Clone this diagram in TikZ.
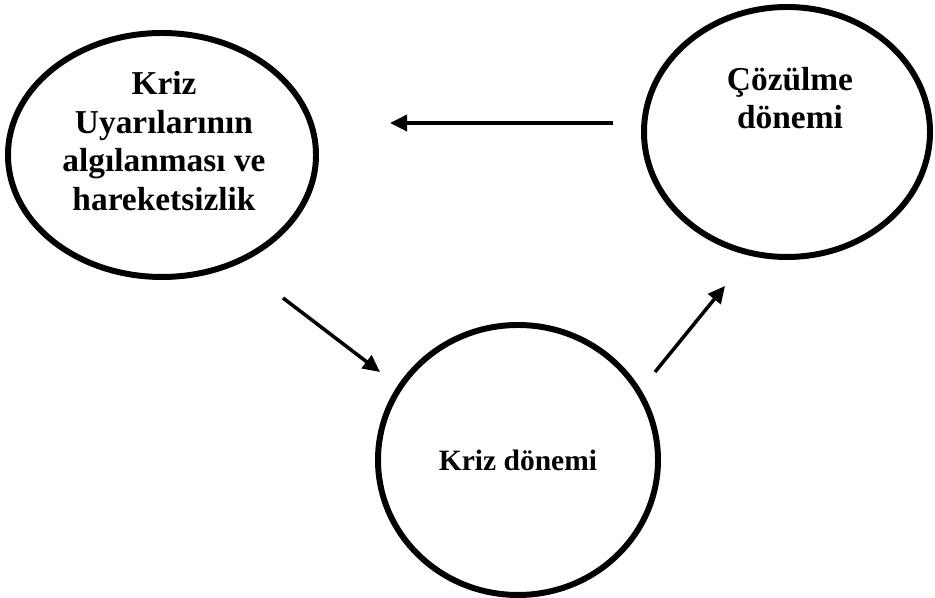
\documentclass[tikz,border=0pt]{standalone}
\usepackage{fontspec}
\setmainfont{Liberation Serif}
\usepackage{tikz}
\usetikzlibrary{calc,arrows.meta,positioning,shapes.geometric}

\tikzset{
  phase/.style={draw,ellipse,line width=1.7pt,inner sep=0pt,outer sep=0pt},
  phasetext/.style={align=center,font=\bfseries\fontsize{9.5}{11.0}\selectfont},
  flow/.style={line width=1pt,-{Triangle[length=0.17cm,width=0.16cm]}}
}

\begin{document}
\begin{tikzpicture}
        \useasboundingbox (0,0) rectangle (9.35,5.98);

        % the three phases
        \node[phase,minimum width=3.08cm,minimum height=2.44cm] (uyari) at (1.62,4.43) {};
        \node[phase,minimum width=2.86cm,minimum height=2.50cm] (cozulme) at (7.87,4.66) {};
        \node[phase,minimum width=2.80cm,minimum height=2.70cm] (kriz) at (5.18,1.38) {};

        \node[phasetext] (uyaritxt) at ($(uyari.center)+(0.02,0.14)$) {Kriz\\Uyarılarının\\algılanması ve\\hareketsizlik};
        \node[phasetext] (cozulmetxt) at ($(cozulme.center)+(0.03,0.34)$) {Çözülme\\dönemi};
        \node[phasetext,font=\bfseries\fontsize{8.4}{10}\selectfont] (kriztxt) at (kriz.center) {Kriz dönemi};

        % arrow ends
        \coordinate (a1) at (6.13,4.75);
        \coordinate (a2) at (3.90,4.75);
        \coordinate (b1) at (2.83,3.00);
        \coordinate (b2) at (3.80,2.26);
        \coordinate (c1) at (6.55,2.26);
        \coordinate (c2) at (7.25,3.12);

        \draw[flow] (a1) -- (a2);
        \draw[flow] (b1) -- (b2);
        \draw[flow] (c1) -- (c2);
\end{tikzpicture}
\end{document}
